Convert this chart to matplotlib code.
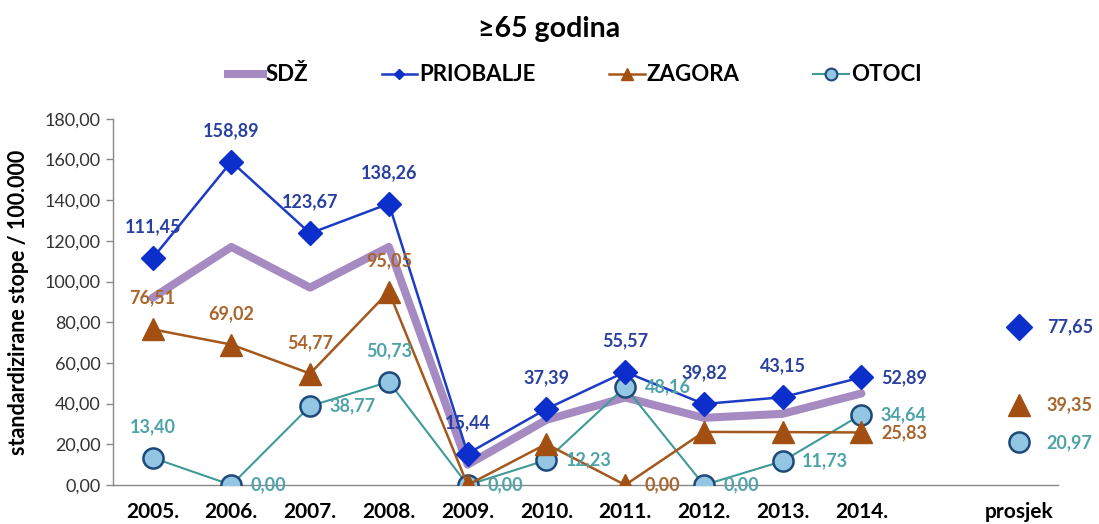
import matplotlib.pyplot as plt
from matplotlib.lines import Line2D
from matplotlib.ticker import FuncFormatter

plt.rcParams['font.family'] = ['Lato', 'DejaVu Sans']

# data
years = ['2005.', '2006.', '2007.', '2008.', '2009.', '2010.', '2011.', '2012.', '2013.', '2014.']
avg_label = 'prosjek'
sdz = [92, 117, 97, 117, 10, 32, 43, 33, 35, 45]
priobalje = [111.45, 158.89, 123.67, 138.26, 15.44, 37.39, 55.57, 39.82, 43.15, 52.89]
zagora = [76.51, 69.02, 54.77, 95.05, 0.00, 20.2, 0.00, 26.1, 26.0, 25.83]
otoci = [13.40, 0.00, 38.77, 50.73, 0.00, 12.23, 48.16, 0.00, 11.73, 34.64]
avg_priobalje = 77.65
avg_zagora = 39.35
avg_otoci = 20.97

# where each value label goes: 'a' above, 'r' right, None hidden
pos_priobalje = ['a', 'a', 'a', 'a', 'a', 'a', 'a', 'a', 'a', 'r']
pos_zagora = ['a', 'a', 'a', 'a', None, None, 'r', None, None, 'r']
pos_otoci = ['a', 'r', 'r', 'a', 'r', 'r', 'r', 'r', 'r', 'r']

c_sdz = '#a68bc2'
c_pri, c_pri_line, c_pri_txt = '#0c2fcc', '#1c3cc4', '#2a40a0'
c_zag, c_zag_line, c_zag_txt = '#a34f12', '#a4581e', '#a8652c'
c_oto_face, c_oto_edge, c_oto_line, c_oto_txt = '#93c6e2', '#1d4a78', '#3f9a98', '#4ea3a8'

x = list(range(len(years)))
x_avg = len(years) + 1


def fmt(v):
    return f'{v:.2f}'.replace('.', ',')


fig = plt.figure(figsize=(10.99, 5.24), dpi=100)
ax = fig.add_axes([0.103, 0.0744, 0.860, 0.699])

ax.plot(x, sdz, color=c_sdz, lw=5.8, solid_capstyle='round', zorder=2)
ax.plot(x, otoci, color=c_oto_line, lw=1.5, marker='o', ms=14.5, mfc=c_oto_face,
        mec=c_oto_edge, mew=1.8, zorder=3)
ax.plot(x, zagora, color=c_zag_line, lw=1.8, marker='^', ms=16, mfc=c_zag,
        mec=c_zag, zorder=4)
ax.plot(x, priobalje, color=c_pri_line, lw=1.8, marker='D', ms=12, mfc=c_pri,
        mec=c_pri, zorder=5)

# averages
ax.plot([x_avg], [avg_priobalje], marker='D', ms=13, color=c_pri, ls='none')
ax.plot([x_avg], [avg_zagora], marker='^', ms=16, color=c_zag, ls='none')
ax.plot([x_avg], [avg_otoci], marker='o', ms=14.5, mfc=c_oto_face, mec=c_oto_edge,
        mew=1.8, ls='none')


def labels(vals, positions, color):
    for xi, v, p in zip(x, vals, positions):
        if p == 'a':
            ax.annotate(fmt(v), (xi, v), xytext=(0, 22.5), textcoords='offset points',
                        ha='center', va='center', color=color, fontsize=13,
                        fontweight='bold', zorder=6)
        elif p == 'r':
            ax.annotate(fmt(v), (xi, v), xytext=(14, 0), textcoords='offset points',
                        ha='left', va='center', color=color, fontsize=13,
                        fontweight='bold', zorder=6)


labels(priobalje, pos_priobalje, c_pri_txt)
labels(zagora, pos_zagora, c_zag_txt)
labels(otoci, pos_otoci, c_oto_txt)

for v, c in [(avg_priobalje, c_pri_txt), (avg_zagora, c_zag_txt), (avg_otoci, c_oto_txt)]:
    ax.annotate(fmt(v), (x_avg, v), xytext=(20, 0), textcoords='offset points',
                ha='left', va='center', color=c, fontsize=13, fontweight='bold')

ax.set_xlim(-0.5, 11.5)
ax.set_ylim(0, 180)
ax.set_yticks(range(0, 181, 20))
ax.yaxis.set_major_formatter(FuncFormatter(lambda v, p: fmt(v)))
ax.set_xticks(x + [x_avg])
ax.set_xticklabels(years + [avg_label], fontsize=15, fontweight='bold')
ax.tick_params(axis='x', length=0, pad=12)
ax.tick_params(axis='y', length=5, width=1, color='#888888', labelsize=13,
               labelcolor='#333333', pad=4)
for s in ['top', 'right']:
    ax.spines[s].set_visible(False)
for s in ['left', 'bottom']:
    ax.spines[s].set_color('#888888')
    ax.spines[s].set_linewidth(1)

ax.set_ylabel('standardizirane stope / 100.000', fontsize=15.5, fontweight='bold')
ax.yaxis.set_label_coords(-0.089, 0.5)

fig.text(0.5, 0.945, '≥65 godina', ha='center', va='center', fontsize=20.5,
         fontweight='bold')

handles = [
    Line2D([], [], color=c_sdz, lw=5.8),
    Line2D([], [], color=c_pri_line, lw=1.8, marker='D', ms=5.5, mfc=c_pri, mec=c_pri),
    Line2D([], [], color=c_zag_line, lw=1.8, marker='^', ms=9, mfc=c_zag, mec=c_zag),
    Line2D([], [], color=c_oto_line, lw=1.5, marker='o', ms=8.5, mfc=c_oto_face,
           mec=c_oto_edge, mew=1.5),
]
fig.legend(handles, ['SDŽ', 'PRIOBALJE', 'ZAGORA', 'OTOCI'], loc='center',
           bbox_to_anchor=(0.523, 0.857), ncol=4, frameon=False,
           prop={'weight': 'bold', 'size': 16}, handlelength=1.6,
           handletextpad=0.1, columnspacing=3.3)

fig.savefig('out.png', dpi=100)
